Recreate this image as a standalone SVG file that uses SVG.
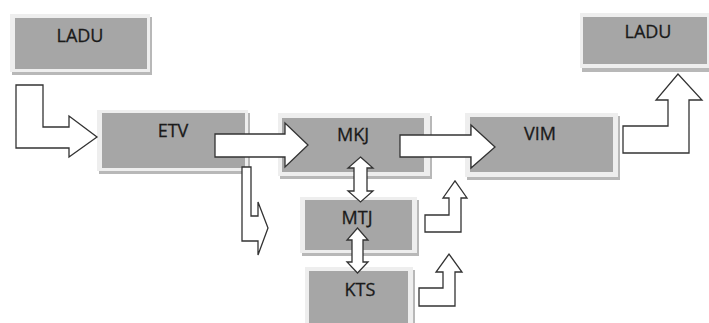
<svg xmlns="http://www.w3.org/2000/svg" width="709" height="323" viewBox="0 0 709 323">
  <style>
    .shadow { fill: #b8b8b8; }
    .frame { fill: #eeeeee; }
    .body { fill: #a6a6a6; }
    .label { font-family: "Open Sans", "Liberation Sans", sans-serif; font-size: 18px; fill: #1a1a1a; stroke: #1a1a1a; stroke-width: 0.3; text-anchor: middle; }
    .arrow { fill: #ffffff; stroke: #333333; stroke-width: 1.3; stroke-linejoin: miter; }
  </style>
  <rect width="709" height="323" fill="#ffffff"/>

  <g id="ladu-in">
    <rect class="shadow" x="12" y="17" width="140" height="58"/>
    <rect class="frame" x="10" y="14" width="140" height="58"/>
    <rect class="body" x="15" y="18" width="132" height="51"/>
    <text class="label" x="80" y="42">LADU</text>
  </g>

  <g id="etv">
    <rect class="shadow" x="99" y="113" width="151" height="61"/>
    <rect class="frame" x="97" y="110" width="151" height="61"/>
    <rect class="body" x="102" y="113" width="143" height="55"/>
    <text class="label" x="173" y="137">ETV</text>
  </g>

  <g id="mkj">
    <rect class="shadow" x="280" y="116" width="152" height="63"/>
    <rect class="frame" x="278" y="113" width="152" height="63"/>
    <rect class="body" x="282" y="118" width="142" height="54"/>
    <text class="label" x="353" y="141">MKJ</text>
  </g>

  <g id="mtj">
    <rect class="shadow" x="302" y="200" width="117" height="56"/>
    <rect class="frame" x="300" y="197" width="117" height="56"/>
    <rect class="body" x="305" y="200" width="107" height="50"/>
    <text class="label" x="357" y="224">MTJ</text>
  </g>

  <g id="kts">
    <rect class="shadow" x="307" y="270" width="108" height="63"/>
    <rect class="frame" x="305" y="267" width="108" height="63"/>
    <rect class="body" x="309" y="271" width="99" height="56"/>
    <text class="label" x="360" y="296">KTS</text>
  </g>

  <g id="vim">
    <rect class="shadow" x="467" y="116" width="153" height="64"/>
    <rect class="frame" x="465" y="113" width="153" height="64"/>
    <rect class="body" x="470" y="117" width="143" height="55"/>
    <text class="label" x="540" y="140">VIM</text>
  </g>

  <g id="ladu-out">
    <rect class="shadow" x="582" y="16" width="130" height="56"/>
    <rect class="frame" x="580" y="13" width="130" height="55"/>
    <rect class="body" x="583" y="17" width="124" height="47"/>
    <text class="label" x="648" y="38">LADU</text>
  </g>

  <g id="connectors">
    <!-- LADU down and right into ETV -->
    <path class="arrow" d="M16,85 H43 V127 H69 V116 L97,137 L69,157 V148 H16 Z"/>
    <!-- ETV to MKJ -->
    <path class="arrow" d="M215,134 H285 V123 L308,145 L285,167 V157 H215 Z"/>
    <!-- ETV down then right -->
    <path class="arrow" d="M242,167 H251 V216 H258 V202 L268,228 L258,255 V241 H242 Z"/>
    <!-- MKJ to VIM -->
    <path class="arrow" d="M400,135 H471 V125 L495,147 L471,168 V157 H400 Z"/>
    <!-- VIM up to LADU -->
    <path class="arrow" d="M623,126 H668 V100 H656 L678,74 L702,100 H689 V153 H623 Z"/>
    <!-- MTJ side bent-up arrow -->
    <path class="arrow" d="M425,215 H449 V198 H443 L455,181 L467,198 H461 V232 H425 Z"/>
    <!-- KTS side bent-up arrow -->
    <path class="arrow" d="M419,288 H443 V272 H436 L449,254 L462,272 H455 V306 H419 Z"/>
    <!-- MKJ <-> MTJ -->
    <path class="arrow" d="M360.5,157 L373,168 H367 V191 H373 L360.5,202 L348,191 H354 V168 H348 Z"/>
    <!-- MTJ <-> KTS -->
    <path class="arrow" d="M357.5,228 L368,240 H363 V262 H368 L357.5,273 L347,262 H352 V240 H347 Z"/>
  </g>
</svg>
